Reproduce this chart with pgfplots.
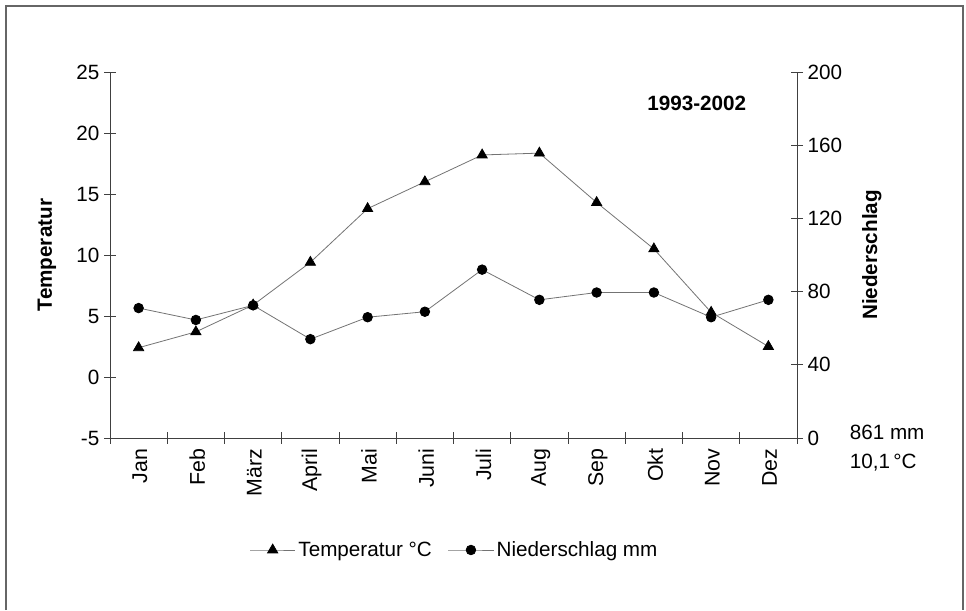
\documentclass[border=0pt]{standalone}
\usepackage{pgfplots}
\pgfplotsset{compat=1.18}
\usepackage{fontspec}
\setmainfont{Liberation Sans}
\begin{document}
\begin{tikzpicture}
\useasboundingbox (0,0) rectangle (724.5pt,457.5pt);
\draw[black!60, line width=1.2pt] (4.5pt,0pt) -- (4.5pt,453pt) -- (722.25pt,453pt) -- (722.25pt,0pt);
\pgfplotsset{
  every axis/.append style={
    scale only axis, width=515.25pt, height=274.5pt,
    at={(82.5pt,129pt)}, anchor=south west,
    xmin=0, xmax=12,
    font=\fontsize{15.5}{18}\selectfont,
    /pgf/number format/assume math mode=true,
    axis line style={black!75, line width=0.7pt},
    tick style={black!75, line width=0.7pt},
    tick align=center,
    major tick length=9pt,
    minor tick length=9pt,
  },
  tstyle/.style={black!55, line width=0.6pt, mark=triangle*, mark size=4.4pt, mark options={black, solid, fill=black}},
  nstyle/.style={black!55, line width=0.6pt, mark=*, mark size=3.6pt, mark options={black, solid, fill=black}},
}
\begin{axis}[
  axis x line*=bottom, axis y line*=left,
  ymin=-5, ymax=25, ytick={-5,0,5,10,15,20,25},
  xtick={0.5,1.5,...,11.5},
  xticklabels={Jan,Feb,März,April,Mai,Juni,Juli,Aug,Sep,Okt,Nov,Dez},
  x tick label style={rotate=90, anchor=east, yshift=-1pt, font=\fontsize{16}{18}\selectfont},
  major x tick style={draw=none},
  minor xtick={0,1,...,12},
  ylabel={\bfseries Temperatur},
  ylabel style={at={(axis description cs:-0.092,0.5)}, anchor=center},
  clip=false,
]
\addplot[tstyle] coordinates {
(0.5,2.4) (1.5,3.7) (2.5,5.9) (3.5,9.4) (4.5,13.8) (5.5,16.0)
(6.5,18.2) (7.5,18.35) (8.5,14.3) (9.5,10.5) (10.5,5.3) (11.5,2.5)};
\node[anchor=center, font=\fontsize{15.5}{18}\selectfont\bfseries] at (axis description cs:0.854,0.915) {1993-2002};
\node[anchor=west, font=\fontsize{15.5}{18}\selectfont] at (axis description cs:1.07,0.016) {861 mm};
\node[anchor=west, font=\fontsize{15.5}{18}\selectfont] at (axis description cs:1.07,-0.066) {10,1\,°C};
\end{axis}
\begin{axis}[
  axis x line=none, axis y line*=right,
  ymin=0, ymax=200, ytick={0,40,...,200},
  ylabel={\bfseries Niederschlag},
  ylabel style={at={(axis description cs:1.109,0.5)}, anchor=center, rotate=0},
  legend columns=2,
  legend style={at={(axis description cs:0.502,-0.306)}, anchor=center, draw=none, fill=none,
    font=\fontsize{15.5}{18}\selectfont,
    /tikz/every even column/.append style={column sep=10pt}},
  legend image code/.code={\draw[mark repeat=2, mark phase=2] plot coordinates {(0pt,0pt) (17pt,0pt) (34pt,0pt)};},
]
\addlegendimage{tstyle}
\addlegendentry{Temperatur °C}
\addplot[nstyle] coordinates {
(0.5,71) (1.5,64.5) (2.5,72.5) (3.5,54) (4.5,66) (5.5,69)
(6.5,92) (7.5,75.5) (8.5,79.5) (9.5,79.5) (10.5,66) (11.5,75.5)};
\addlegendentry{Niederschlag mm}
\end{axis}
\end{tikzpicture}
\end{document}
